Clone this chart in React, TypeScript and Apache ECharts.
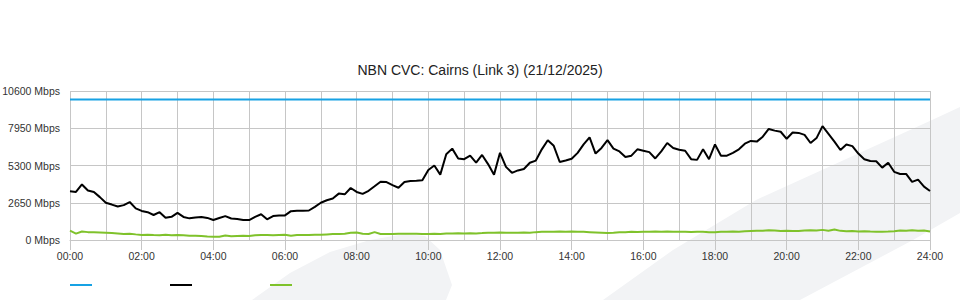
import React, { useEffect, useRef } from "react";
import * as echarts from "echarts";

const titleText = "NBN CVC: Cairns (Link 3) (21/12/2025)";
const seriesNames = ["Capacity", "Download", "Upload"];
const seriesColors = ["#17a2e4", "#000000", "#7fc22b"];
const stepMinutes = 10;
const capacityValue = 10000;
const capacityTimes = [0, 1440];
const yTicks = [0, 2650, 5300, 7950, 10600];

const download = [
  3470, 3420, 3950, 3520, 3420, 3050,
  2650, 2520, 2380, 2480, 2700, 2250,
  2070, 1980, 1780, 1980, 1580, 1650,
  1930, 1640, 1540, 1600, 1640, 1570,
  1420, 1560, 1700, 1530, 1500, 1420,
  1420, 1650, 1830, 1470, 1700, 1740,
  1750, 2050, 2080, 2080, 2100, 2360,
  2650, 2830, 2950, 3300, 3250, 3700,
  3420, 3280, 3500, 3820, 4150, 4120,
  3900, 3720, 4130, 4200, 4220, 4250,
  4980, 5300, 4650, 6100, 6500, 5800,
  5750, 6000, 5500, 6050, 5400, 4650,
  6200, 5200, 4780, 4950, 5050, 5500,
  5650, 6450, 7100, 6700, 5550, 5650,
  5780, 6200, 6800, 7300, 6150, 6550,
  7100, 6500, 6300, 5900, 6000, 6450,
  6350, 6250, 5800, 6300, 6900, 6550,
  6420, 6350, 5750, 5700, 6450, 5750,
  6800, 6000, 6000, 6200, 6450, 6850,
  7050, 7000, 7350, 7900, 7780, 7700,
  7200, 7650, 7620, 7480, 6900, 7250,
  8100, 7550, 7000, 6400, 6800, 6680,
  6150, 5750, 5620, 5600, 5150, 5500,
  4850, 4700, 4700, 4130, 4300, 3800,
  3490,
];

const upload = [
  660, 450, 600, 560, 550, 540,
  520, 500, 470, 420, 450, 400,
  360, 380, 350, 340, 370, 330,
  360, 330, 300, 310, 280, 250,
  240, 230, 320, 260, 280, 300,
  290, 340, 360, 350, 340, 360,
  370, 310, 350, 360, 360, 380,
  380, 400, 420, 420, 450, 520,
  540, 440, 430, 560, 430, 430,
  420, 440, 440, 450, 440, 430,
  420, 440, 430, 470, 460, 480,
  470, 480, 470, 490, 520, 510,
  540, 520, 510, 520, 530, 520,
  560, 580, 590, 580, 600, 590,
  600, 590, 580, 560, 540, 520,
  500, 520, 550, 560, 580, 570,
  590, 580, 600, 580, 600, 590,
  580, 590, 570, 580, 590, 560,
  560, 580, 590, 600, 590, 620,
  640, 660, 650, 700, 680, 640,
  650, 640, 640, 680, 700, 680,
  720, 660, 740, 650, 620, 640,
  600, 620, 600, 590, 590, 600,
  620, 680, 660, 700, 650, 680,
  600,
];

const watermarkColor = "#f2f3f5";

export default function App() {
  const ref = useRef<HTMLDivElement>(null);
  useEffect(() => {
    document.body.style.margin = "0";
    if (!ref.current) return;
    const chart = echarts.init(ref.current, undefined, { renderer: "svg" });
    const toPairs = (arr: number[]) => arr.map((v, i) => [i * stepMinutes, v]);
    const font = "'Liberation Sans', Arial, sans-serif";
    chart.setOption({
      animation: false,
      backgroundColor: "#ffffff",
      title: {
        text: titleText,
        left: "center",
        top: 58,
        textStyle: { fontFamily: font, fontSize: 14, fontWeight: "normal", color: "#222" },
      },
      graphic: [
        {
          type: "polygon",
          z: -10,
          silent: true,
          shape: {
            points: [
              [603, 300], [673, 250], [756, 200], [932, 120], [960, 107],
              [960, 213], [913, 240], [800, 300],
            ],
          },
          style: { fill: watermarkColor },
        },
        {
          type: "polygon",
          z: -10,
          silent: true,
          shape: {
            points: [
              [252, 300], [290, 273], [330, 252], [370, 240], [405, 234],
              [425, 236], [440, 250], [452, 285], [446, 300],
            ],
          },
          style: { fill: watermarkColor },
        },
      ],
      legend: seriesNames.map((n, i) => ({
        data: [n],
        left: 65 + 100 * i,
        top: 279,
        itemWidth: 22,
        itemHeight: 2,
        icon: "rect",
        formatter: () => "",
        selectedMode: false,
      })),
      grid: { left: 70, right: 30, top: 91, bottom: 60, outerBoundsMode: "none" },
      xAxis: {
        type: "value",
        min: 0,
        max: 1440,
        interval: 120,
        axisLine: { show: true, lineStyle: { color: "#c6c6c6" } },
        axisTick: { show: true, length: 10, lineStyle: { color: "#c6c6c6" } },
        axisLabel: {
          fontFamily: font,
          fontSize: 10.5,
          color: "#333",
          margin: 10,
          formatter: (v: number) => `${String(Math.round(v / 60)).padStart(2, "0")}:00`,
        },
        splitLine: { show: true, lineStyle: { color: "#c6c6c6" } },
        minorTick: { show: false, splitNumber: 2 },
        minorSplitLine: { show: true, lineStyle: { color: "#c6c6c6" } },
      },
      yAxis: {
        type: "value",
        min: yTicks[0],
        max: yTicks[yTicks.length - 1],
        interval: yTicks[1] - yTicks[0],
        axisLine: { show: false },
        axisTick: { show: false },
        axisLabel: {
          fontFamily: font,
          fontSize: 10.5,
          color: "#333",
          margin: 10,
          padding: [0, 0, 4, 0],
          formatter: (v: number) => `${v} Mbps`,
        },
        splitLine: { show: true, lineStyle: { color: "#c6c6c6" } },
      },
      series: [
        {
          name: seriesNames[0],
          type: "line",
          data: capacityTimes.map((t) => [t, capacityValue]),
          showSymbol: false,
          lineStyle: { width: 2, color: seriesColors[0] },
          itemStyle: { color: seriesColors[0] },
        },
        {
          name: seriesNames[1],
          type: "line",
          data: toPairs(download),
          showSymbol: false,
          lineStyle: { width: 2, color: seriesColors[1] },
          itemStyle: { color: seriesColors[1] },
        },
        {
          name: seriesNames[2],
          type: "line",
          data: toPairs(upload),
          showSymbol: false,
          lineStyle: { width: 2, color: seriesColors[2] },
          itemStyle: { color: seriesColors[2] },
        },
      ],
    });
    return () => chart.dispose();
  }, []);
  return <div ref={ref} style={{ width: 960, height: 300 }} />;
}
